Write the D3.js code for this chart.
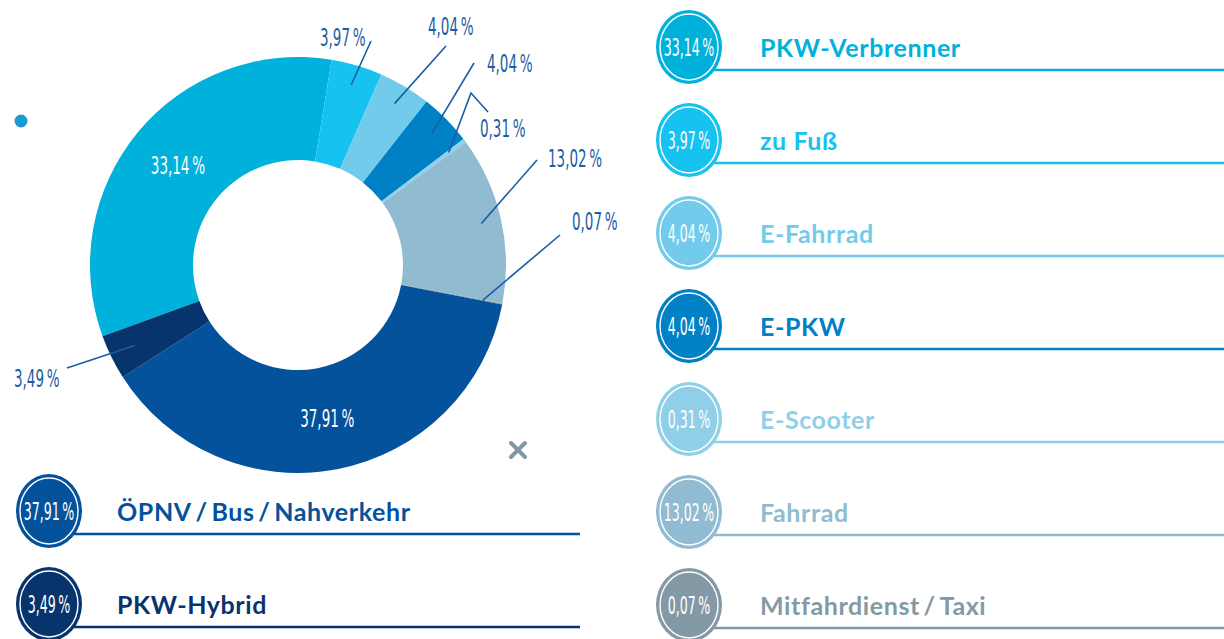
<!DOCTYPE html>
<html>
<head>
<meta charset="utf-8">
<script src="https://cdn.jsdelivr.net/npm/d3@7"></script>
<style>
  body { margin: 0; background: #fff; }
  svg { display: block; }
  .legend-label { font-family: Lato, 'Open Sans', sans-serif; font-weight: 700; font-size: 25px; letter-spacing: 0.6px; }
  .hand { font-family: 'Liberation Sans Narrow', 'DejaVu Sans Condensed', sans-serif; font-size: 25px; }
</style>
</head>
<body>
<script>
// categories in pie order (clockwise, starting at PKW-Verbrenner)
const categories = ['PKW-Verbrenner', 'zu Fuß', 'E-Fahrrad', 'E-PKW', 'E-Scooter', 'Fahrrad',
  'Mitfahrdienst\u2009/\u2009Taxi', 'ÖPNV\u2009/\u2009Bus\u2009/\u2009Nahverkehr', 'PKW-Hybrid'];
const shares = [33.14, 3.97, 4.04, 4.04, 0.31, 13.02, 0.07, 37.91, 3.49];

// styling, kept apart from the values
const colors = ['#00b1dc', '#16c2ef', '#72cbea', '#0080c5', '#8fd0e8', '#90bbd0', '#8399a5', '#03529b', '#07346c'];
const sliceColors = colors.slice();
sliceColors[6] = '#9aa0a4';

const WIDTH = 1224, HEIGHT = 639;
const CENTER = [298, 265];
const INNER_R = 105, OUTER_R = 208;
const START = 250 * Math.PI / 180;

// callout placement: label anchor, text position and optional elbow
const callouts = {
  0: { inside: true },
  1: { text: [320, 46], from: [371, 41] },
  2: { text: [428, 35], from: [446, 46] },
  3: { text: [487, 72], from: [474, 63] },
  4: { text: [480, 137], from: [488, 112], elbow: [471, 93] },
  5: { text: [548, 167], from: [537, 160] },
  6: { text: [572, 230], from: [560, 235] },
  7: { inside: true },
  8: { text: [14, 387], from: [67, 368] }
};

function fmt(v) {
  return v.toFixed(2).replace('.', ',') + '\u2009%';
}

let svg = d3.select('body')
  .append('svg')
  .attr('width', WIDTH)
  .attr('height', HEIGHT);

// donut
let pie = d3.pie()
  .sort(null)
  .value(function(d) { return d; })
  .startAngle(START)
  .endAngle(START + 2 * Math.PI);

let arcs = pie(shares);

let arc = d3.arc()
  .innerRadius(INNER_R)
  .outerRadius(OUTER_R);

let chart = svg.append('g')
  .attr('transform', 'translate(' + CENTER[0] + ',' + CENTER[1] + ')');

chart.selectAll('path.slice')
  .data(arcs)
  .enter()
  .append('path')
  .attr('class', 'slice')
  .attr('d', arc)
  .attr('fill', function(d, i) { return sliceColors[i]; });

// point on a slice at given radius, in page coordinates
function slicePoint(d, r) {
  let a = (d.startAngle + d.endAngle) / 2;
  return [CENTER[0] + r * Math.sin(a), CENTER[1] - r * Math.cos(a)];
}

arcs.forEach(function(d, i) {
  let c = callouts[i];
  if (c.inside) {
    let p = slicePoint(d, 156);
    svg.append('text')
      .attr('class', 'hand')
      .attr('transform', 'translate(' + p[0] + ',' + (p[1] + 9) + ') scale(0.6,1)')
      .attr('text-anchor', 'middle')
      .attr('fill', '#fff')
      .text(fmt(d.data));
    return;
  }
  let end = slicePoint(d, i === 8 ? 182 : 188);
  let pts = [c.from];
  if (c.elbow) pts.push(c.elbow);
  pts.push(end);

  svg.append('path')
    .attr('d', d3.line()(pts))
    .attr('fill', 'none')
    .attr('stroke', '#1c5ca6')
    .attr('stroke-width', 1.6);

  svg.append('text')
    .attr('class', 'hand')
    .attr('transform', 'translate(' + c.text[0] + ',' + c.text[1] + ') scale(0.6,1)')
    .attr('fill', '#1c5ca6')
    .text(fmt(d.data));
});

// legend rows: first seven on the right, last two under the donut
function legendPos(i) {
  if (i < 7) return { cx: 689, cy: 47 + i * 93, tx: 760, x0: 714, x1: 1224 };
  return { cx: 49, cy: 511 + (i - 7) * 93, tx: 117, x0: 74, x1: 580 };
}

let rows = svg.selectAll('g.legend')
  .data(shares)
  .enter()
  .append('g')
  .attr('class', 'legend')
  .attr('transform', function(d, i) {
    let p = legendPos(i);
    return 'translate(' + p.cx + ',' + p.cy + ')';
  });

rows.append('line')
  .attr('x1', function(d, i) { let p = legendPos(i); return p.x0 - p.cx; })
  .attr('x2', function(d, i) { let p = legendPos(i); return p.x1 - p.cx; })
  .attr('y1', 23)
  .attr('y2', 23)
  .attr('stroke', function(d, i) { return colors[i]; })
  .attr('stroke-width', 2.5);

rows.append('ellipse')
  .attr('rx', 33)
  .attr('ry', 37)
  .attr('fill', function(d, i) { return colors[i]; });

rows.append('ellipse')
  .attr('rx', 29)
  .attr('ry', 33)
  .attr('fill', 'none')
  .attr('stroke', '#fff')
  .attr('stroke-width', 1.4);

rows.append('text')
  .attr('class', 'hand')
  .attr('transform', 'translate(0,9) scale(0.56,1)')
  .attr('text-anchor', 'middle')
  .attr('fill', '#fff')
  .text(function(d) { return fmt(d); });

rows.append('text')
  .attr('class', 'legend-label')
  .attr('x', function(d, i) { let p = legendPos(i); return p.tx - p.cx; })
  .attr('y', 10)
  .attr('fill', function(d, i) { return colors[i]; })
  .text(function(d, i) { return categories[i]; });

// decorations
svg.append('circle')
  .attr('cx', 21)
  .attr('cy', 121)
  .attr('r', 6.5)
  .attr('fill', '#1b9ad6');

svg.append('path')
  .attr('d', 'M511,443L525,457M525,443L511,457')
  .attr('stroke', '#7f98a6')
  .attr('stroke-width', 4)
  .attr('stroke-linecap', 'round');
</script>
</body>
</html>
